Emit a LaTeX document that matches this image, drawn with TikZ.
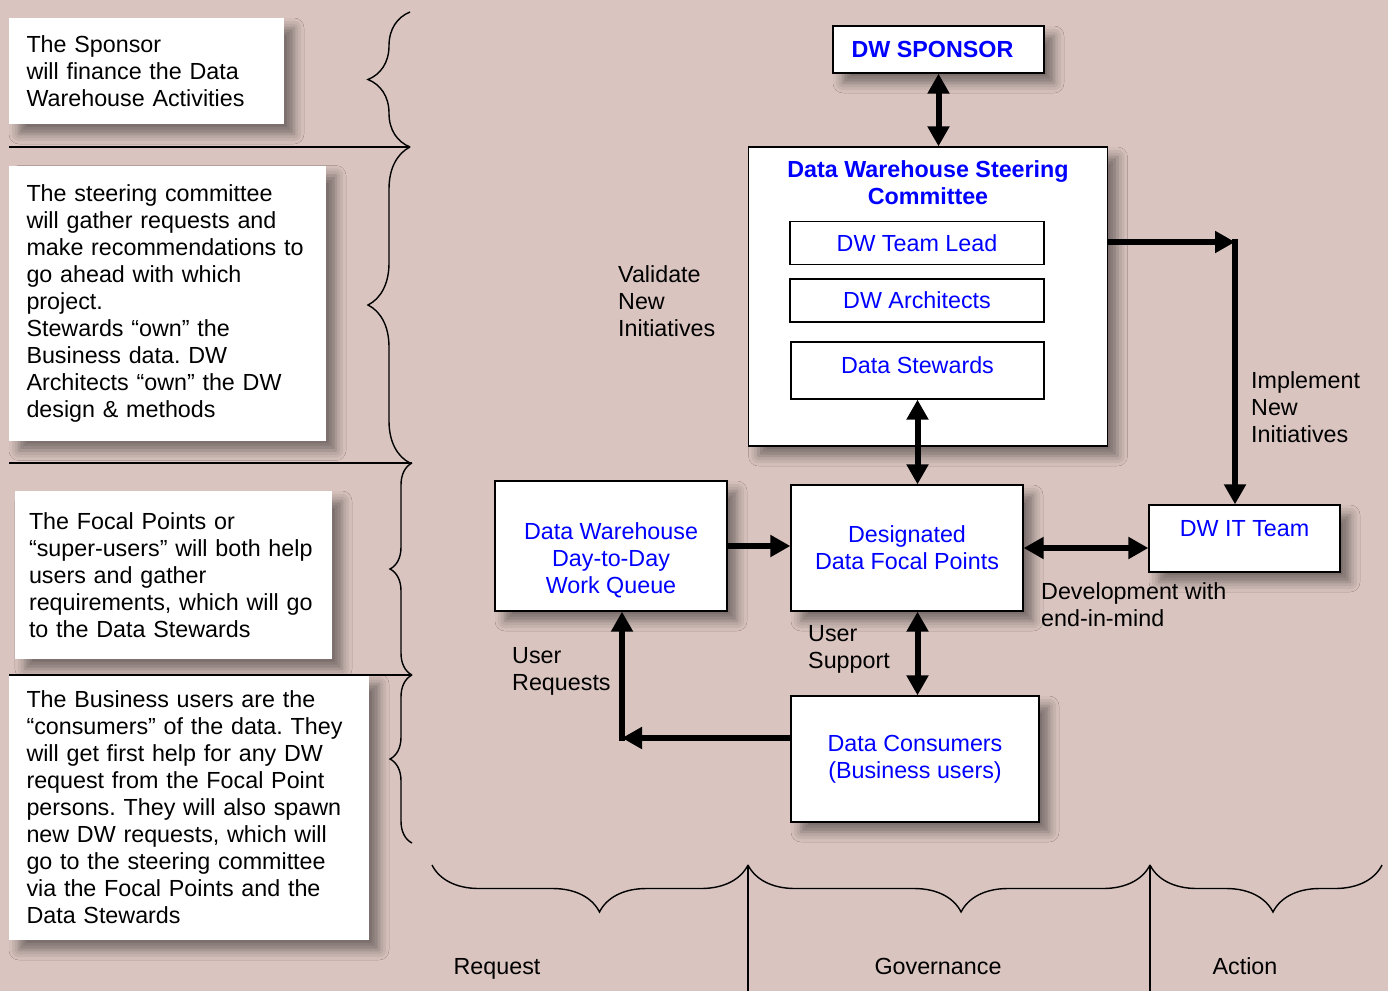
\documentclass[tikz,border=0pt]{standalone}
\usepackage{fontspec}
\setmainfont{Liberation Sans}
\usetikzlibrary{arrows.meta,decorations.pathreplacing,shadows.blur}
\definecolor{bgcol}{RGB}{217,196,191}
\frenchspacing
\begin{document}
\begin{tikzpicture}[x=1pt,y=-1pt,
  every node/.style={font=\fontsize{23.3}{27}\selectfont},
  softshadow/.style={blur shadow={shadow xshift=10pt,shadow yshift=-10pt,shadow blur radius=10pt,shadow opacity=45}},
  note/.style={fill=white, text width=#1, align=left, inner xsep=17.5pt, inner ysep=0pt, softshadow},
  bluebox/.style={draw, line width=1.3pt, fill=white, text=blue, align=center, inner sep=0pt, softshadow},
  subbox/.style={draw, line width=1.3pt, fill=white, text=blue, inner sep=0pt},
  lbl/.style={align=left, inner sep=0pt},
  arr/.style={line width=6pt, -{Triangle[width=21pt,length=20pt]}},
  dblarr/.style={line width=6pt, {Triangle[width=21pt,length=20pt]}-{Triangle[width=21pt,length=20pt]}},
  curly/.style={decorate, decoration={brace, amplitude=#1}, line width=1.4pt},
  sepline/.style={line width=1.4pt}]
\path[use as bounding box, fill=bgcol] (0,0) rectangle (1388,991);

% notes on the left
\node[note=240pt, minimum height=106pt] (sponsornote) at (146.5,71) {The Sponsor\\will finance the Data\\Warehouse Activities};
\node[note=282pt, minimum height=275pt] (steernote) at (167.5,303) {The steering committee\\will gather requests and\\make recommendations to\\go ahead with which\\project.\\Stewards “own” the\\Business data. DW\\Architects “own” the DW\\design \& methods};
\node[note=289pt, inner xsep=14pt, minimum height=168pt] (focalnote) at (173.5,575) {The Focal Points or\\“super-users” will both help\\users and gather\\requirements, which will go\\to the Data Stewards};
\node[note=325pt, minimum height=266pt] (usernote) at (189,807) {The Business users are the\\“consumers” of the data. They\\will get first help for any DW\\request from the Focal Point\\persons. They will also spawn\\new DW requests, which will\\go to the steering committee\\via the Focal Points and the\\Data Stewards};

\draw[sepline] (9,147) -- (410,147);
\draw[sepline] (9,463) -- (412,463);
\draw[sepline] (9,675) -- (412,675);

\draw[curly=42pt] (410,147) -- (410,12);
\draw[curly=42pt] (410,463) -- (410,147);
\draw[curly=22pt] (412,675) -- (412,463);
\draw[curly=22pt] (412,843) -- (412,675);

% bottom groups
\draw[curly=47pt, decoration={aspect=0.47}] (748,865) -- (432,865);
\draw[curly=47pt, decoration={aspect=0.47}] (1150,865) -- (748,865);
\draw[curly=47pt, decoration={aspect=0.47}] (1382,865) -- (1150,865);
\draw[sepline] (748,865) -- (748,991);
\draw[sepline] (1150,865) -- (1150,991);
\node[anchor=base] (request) at (497,974.5) {Request};
\node[anchor=base] (governance) at (938,974.5) {Governance};
\node[anchor=base] (action) at (1245,974.5) {Action};

% boxes
\node[bluebox, font=\fontsize{23.3}{27}\selectfont\bfseries, minimum width=211pt, minimum height=47pt] (sponsor) at (938.5,49.5) {DW SPONSOR\hspace*{12pt}};
\node[bluebox, minimum width=359pt, minimum height=299pt] (steer) at (928,296.5) {};
\node[text=blue, font=\fontsize{23.3}{27}\selectfont\bfseries, align=center] (steertitle) at (928,182.5) {Data Warehouse Steering\\Committee};
\node[subbox, minimum width=254pt, minimum height=43pt] (lead) at (917,243) {DW Team Lead};
\node[subbox, minimum width=254pt, minimum height=43pt] (arch) at (917,300.5) {DW Architects};
\node[subbox, minimum width=253pt, text height=31pt, text depth=26pt] (stew) at (917.5,370.5) {Data Stewards};
\node[bluebox, minimum width=232pt, minimum height=130pt] (queue) at (611,546) {};
\node[text=blue, align=center] (queuetext) at (611,560) {Data Warehouse\\Day-to-Day\\Work Queue};
\node[bluebox, minimum width=232pt, minimum height=126pt] (focal) at (907,548) {Designated\\Data Focal Points};
\node[bluebox, minimum width=191pt, text height=31.3pt, text depth=35.7pt] (itteam) at (1244.5,538.5) {DW IT Team};
\node[bluebox, minimum width=248pt, minimum height=126pt] (consumers) at (915,759) {Data Consumers\\(Business users)};

% connectors
\draw[dblarr] (sponsor.south) -- (sponsor.south |- steer.north);
\draw[dblarr] (stew.south) -- (stew.south |- focal.north);
\draw[dblarr] (focal.south -| stew.south) -- (consumers.north -| stew.south);
\draw[arr] (queue.east) -- (queue.east -| focal.west);
\draw[dblarr] (focal.east) -- (focal.east -| itteam.west);
\coordinate (implcorner) at (1235,242);
\draw[arr] (steer.east |- implcorner) -- (implcorner);
\draw[arr] ([yshift=3pt]implcorner) -- (implcorner |- itteam.north);
\coordinate (reqcorner) at (622,738);
\draw[arr] (consumers.west |- reqcorner) -- (reqcorner);
\draw[arr] ([yshift=-3pt]reqcorner) -- (reqcorner |- queue.south);

% labels
\node[lbl, anchor=west] (validate) at (618,301) {Validate\\New\\Initiatives};
\node[lbl, anchor=west] (implement) at (1251,407) {Implement\\New\\Initiatives};
\node[lbl, anchor=west] (devel) at (1041,604.5) {Development with\\end-in-mind};
\node[lbl, anchor=west] (support) at (808,649.5) {User\\Support};
\node[lbl, anchor=west] (requests) at (512,671) {User\\Requests};
\end{tikzpicture}
\end{document}
